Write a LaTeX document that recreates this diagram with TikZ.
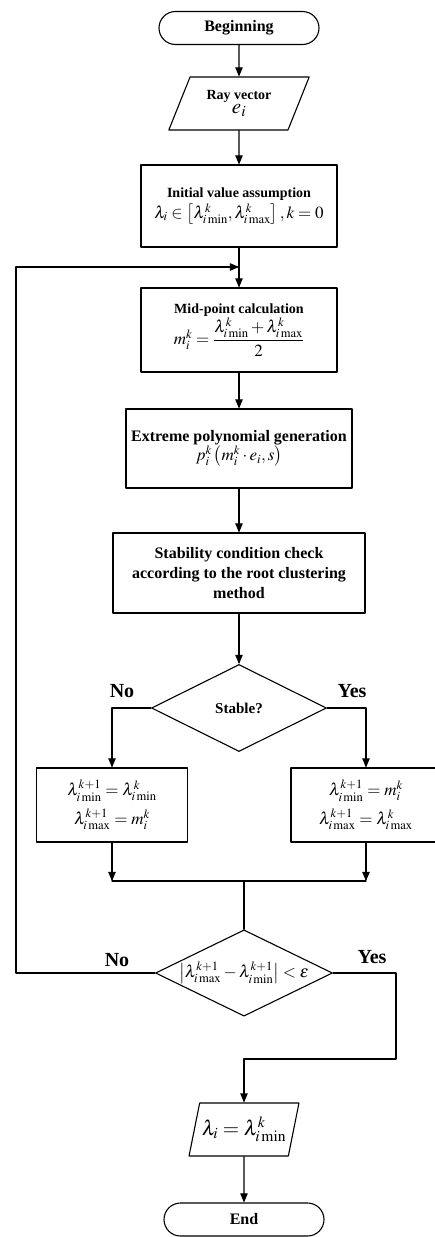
\documentclass[tikz,border=0pt]{standalone}
\usepackage{amsmath}
\usepackage{mathptmx}
\usepackage{fontspec}
\setmainfont{Liberation Serif}
\usepackage{tikz}
\usetikzlibrary{calc}
\usetikzlibrary{arrows}
\usetikzlibrary{shapes.geometric,shapes.misc}
\tikzstyle{every node}=[font=\fontsize{14}{17}\selectfont]
\tikzstyle{terminal}=[draw,rounded rectangle,minimum width=160pt,minimum height=33pt,inner sep=0pt,font=\fontsize{16}{18}\selectfont\bfseries]
\tikzstyle{io}=[draw,trapezium,trapezium stretches=true,inner sep=0pt,align=center]
\tikzstyle{process}=[draw,rectangle,inner sep=0pt,align=center]
\tikzstyle{decision}=[draw,diamond,aspect=2,inner sep=0pt,align=center]
\tikzstyle{answer}=[font=\fontsize{20}{22}\selectfont\bfseries]
\newcommand{\mth}[1]{{\fontsize{17}{21}\selectfont$#1$}}

\begin{document}
\begin{tikzpicture}[line cap=round,line join=round,>=triangle 45,x=1.0pt,y=-1.0pt,line width=1.1pt]
            \clip(0,0) rectangle (435,1237);
            \node [terminal] (begin) at (239,28) {Beginning};
            \node [io,trapezium left angle=62,trapezium right angle=118,minimum width=141pt,minimum height=53pt] (ray) at (239,103.5) {\textbf{Ray vector}\\[-3pt]{\fontsize{21}{21}\selectfont$e_i$}};
            \node [process,minimum width=196pt,minimum height=82pt] (init) at (239,206) {\textbf{Initial value assumption}\\[2pt]\mth{\lambda_i\in\left[\lambda^k_{i\min},\lambda^k_{i\max}\right],k=0}};
            \node [process,minimum width=196pt,minimum height=84pt] (mid) at (239,330) {\textbf{Mid-point calculation}\\\mth{m_i^k=\dfrac{\lambda^k_{i\min}+\lambda^k_{i\max}}{2}}};
            \node [process,minimum width=226pt,minimum height=79pt,font=\fontsize{16}{19}\selectfont] (ext) at (239,448.5) {\textbf{Extreme polynomial generation}\\\mth{p_i^k\left(m_i^k\cdot e_i,s\right)}};
            \node [process,minimum width=252pt,minimum height=80pt,font=\fontsize{16}{20}\selectfont\bfseries] (stab) at (239,573) {Stability condition check\\according to the root clustering\\method};
            \node [decision,minimum width=175pt,minimum height=87pt,font=\fontsize{15}{18}\selectfont\bfseries] (stable) at (239,708) {Stable?};
            \node [process,minimum width=151pt,minimum height=74pt] (left) at (112,805) {\mth{\lambda^{k+1}_{i\min}=\lambda^k_{i\min}}\\[7pt]\mth{\lambda^{k+1}_{i\max}=m_i^k}};
            \node [process,minimum width=150pt,minimum height=74pt] (right) at (366,805) {\mth{\lambda^{k+1}_{i\min}=m_i^k}\\[7pt]\mth{\lambda^{k+1}_{i\max}=\lambda^k_{i\max}}};
            \node [decision,minimum width=177pt,minimum height=86pt] (check) at (244,973) {\mth{\left|\lambda^{k+1}_{i\max}-\lambda^{k+1}_{i\min}\right|<\varepsilon}};
            \node [io,trapezium left angle=68,trapezium right angle=112,minimum width=110pt,minimum height=53pt] (result) at (244,1129.5) {{\fontsize{21}{21}\selectfont$\lambda_i=\lambda^k_{i\min}$}};
            \node [terminal] (end) at (244,1219.5) {End};
            \node [answer] (no1) at (122,691) {No};
            \node [answer] (yes1) at (352,691) {Yes};
            \node [answer] (no2) at (117,960) {No};
            \node [answer] (yes2) at (372,957) {Yes};
            \coordinate (loopin) at (239,267);
            \coordinate (fbcorner) at (16,267);
            \coordinate (mergeL) at (112,881);
            \coordinate (mergeR) at (366,881);
            \coordinate (join) at (244,881);
            \coordinate (yescorner) at (396,1059);
            \draw [->] (begin) -- (ray);
            \draw [->] (ray) -- (init);
            \draw [->] (init) -- (mid);
            \draw [->] (mid) -- (ext);
            \draw [->] (ext) -- (stab);
            \draw [->] (stab) -- (stable);
            \draw [->] (stable.west) -| (left.north);
            \draw [->] (stable.east) -| (right.north);
            \draw [->] (left.south) -- (mergeL);
            \draw [->] (right.south) -- (mergeR);
            \draw (mergeL) -- (mergeR);
            \draw (join) -- (check.north);
            \draw [->] (check.west) -| (fbcorner) -- (loopin);
            \draw [->] (check.east) -| (yescorner) -| (result.north);
            \draw [->] (result) -- (end);
\end{tikzpicture}
\end{document}
